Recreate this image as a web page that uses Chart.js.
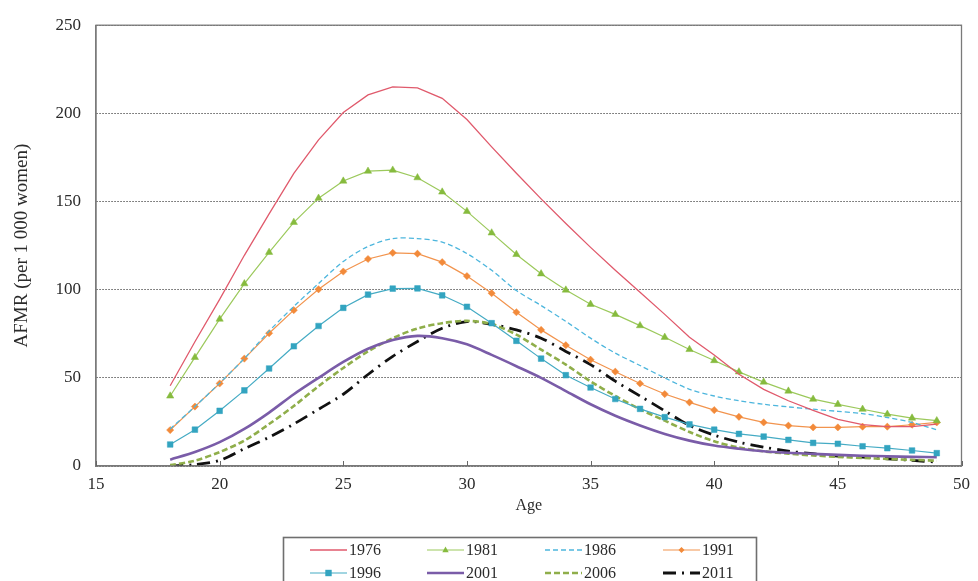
<!DOCTYPE html>
<html>
<head>
<meta charset="utf-8">
<script src="https://cdn.jsdelivr.net/npm/chart.js@4.4.0/dist/chart.umd.min.js"></script>
<style>
    body { margin: 0; background: #fff; }
    #wrap { width: 978px; height: 581px; }
</style>
</head>
<body>
<div id="wrap"><canvas id="afmrChart" width="978" height="581"></canvas></div>
<script>
// ages 18 .. 49
const ages = [18, 19, 20, 21, 22, 23, 24, 25, 26, 27, 28, 29, 30, 31, 32, 33,
              34, 35, 36, 37, 38, 39, 40, 41, 42, 43, 44, 45, 46, 47, 48, 49];

const xTicks = [15, 20, 25, 30, 35, 40, 45, 50];
const yTicks = [0, 50, 100, 150, 200, 250];

const years = ['1976', '1981', '1986', '1991', '1996', '2001', '2006', '2011'];

const afmr1976 = [45.5, 70.5, 94.5, 119.5, 143, 166, 185, 200.5, 210.5, 215, 214.5, 208.5, 196.5, 181, 166, 151.5,
                  137.5, 124, 111, 98.5, 86, 73, 63, 52, 43.5, 37, 31.5, 26.5, 23.5, 22.3, 22.3, 23.8];
const afmr1981 = [39.7, 61.6, 83.3, 103.4, 121.2, 138.2, 151.9, 161.6, 167.2, 167.8, 163.5, 155.4, 144.4, 132.2, 120, 109,
                  99.8, 91.7, 86, 79.6, 73, 66.1, 59.8, 53.4, 47.6, 42.5, 37.9, 35, 32.2, 29.4, 27.2, 25.7];
const afmr1986 = [21, 33.7, 47, 61, 76.5, 90.5, 103.5, 116, 124.5, 129, 129, 127, 120.5, 111, 99.5, 91,
                  82, 72.5, 64, 57, 50, 43.5, 39.7, 37, 35, 33.5, 32.2, 31, 29.7, 27.5, 24.7, 20.5];
const afmr1991 = [20.4, 33.7, 46.8, 60.9, 75.3, 88.4, 100.2, 110.3, 117.4, 120.9, 120.4, 115.6, 107.7, 98, 87.2, 77.2,
                  68.5, 60.3, 53.5, 46.8, 40.8, 36.1, 31.7, 27.9, 24.7, 22.9, 21.9, 21.9, 22.3, 22.3, 23.4, 24.7];
const afmr1996 = [12.2, 20.6, 31.3, 42.9, 55.3, 67.9, 79.4, 89.7, 97.2, 100.6, 100.7, 96.8, 90.3, 81, 71, 60.9,
                  51.5, 44.5, 38, 32.4, 27.7, 23.6, 20.6, 18.2, 16.7, 14.8, 13.1, 12.6, 11.2, 10.1, 8.8, 7.3];
const afmr2001 = [3.6, 7.9, 13.5, 21, 30.3, 40.7, 50, 59, 66.5, 71.5, 73.8, 72.5, 69, 63, 56.6, 50,
                  42.5, 35, 28.5, 23, 18.2, 14.4, 11.6, 9.8, 8.4, 7.5, 6.9, 6.3, 5.8, 5.5, 5.2, 5];
const afmr2006 = [0.5, 3, 7.9, 14.4, 23.8, 34, 45.3, 55.6, 65, 72.5, 78, 81, 82.3, 80.5, 74.5, 66,
                  57.5, 48, 39.7, 32.2, 25.7, 19.3, 14, 10.5, 8.3, 7, 6, 5.2, 4.6, 4, 3.5, 3];
const afmr2011 = [0, 0.8, 3.2, 9.8, 16.3, 23.8, 32.2, 40.7, 51.9, 62.2, 70.6, 78.1, 81.9, 80.3, 77.2, 72.5,
                  65, 57.5, 48.1, 39.7, 31.3, 23, 17.5, 13.5, 10.7, 8.4, 7, 5.6, 5, 4.1, 3.2, 2.2];

const FONT = "'Liberation Serif', 'DejaVu Serif', serif";

function toPoints(values) {
    return ages.map((a, i) => ({ x: a, y: values[i] }));
}

// line look for each year
const styles = [
    { color: '#e05a6c', width: 1.3, dash: [], point: false, tension: 0 },
    { color: '#9cc95c', width: 1.2, dash: [], point: 'triangle', pointColor: '#86bb3e', radius: 4.2, tension: 0 },
    { color: '#4db6dd', width: 1.3, dash: [5, 3], point: false, tension: 0.3 },
    { color: '#f2944e', width: 1.2, dash: [], point: 'rectRot', pointColor: '#f28a3a', radius: 3.6, tension: 0 },
    { color: '#45abc4', width: 1.2, dash: [], point: 'rect', pointColor: '#33a4c0', radius: 4, tension: 0 },
    { color: '#7a5ca8', width: 2.6, dash: [], point: false, tension: 0.3 },
    { color: '#8fae4a', width: 2.6, dash: [6, 3], point: false, tension: 0.3 },
    { color: '#111111', width: 2.8, dash: [13, 6, 2, 6], point: false, tension: 0.3 }
];

const seriesValues = [afmr1976, afmr1981, afmr1986, afmr1991, afmr1996, afmr2001, afmr2006, afmr2011];

const datasets = seriesValues.map((vals, i) => {
    const s = styles[i];
    return {
        label: years[i],
        data: toPoints(vals),
        borderColor: s.color,
        borderWidth: s.width,
        borderDash: s.dash,
        tension: s.tension,
        pointStyle: s.point || 'circle',
        pointRadius: s.point ? s.radius : 0,
        pointBackgroundColor: s.pointColor || s.color,
        pointBorderColor: s.pointColor || s.color,
        pointBorderWidth: 0.5,
        fill: false
    };
});

// boxed legend, 4 columns x 2 rows, plot frame and inner x tick marks
const framePlugin = {
    id: 'frameAndLegend',
    afterDraw(chart) {
        const ctx = chart.ctx;
        const area = chart.chartArea;
        const xScale = chart.scales.x;
        ctx.save();
        ctx.strokeStyle = '#7a7a7a';
        ctx.lineWidth = 1.3;
        ctx.strokeRect(area.left, area.top, area.right - area.left, area.bottom - area.top);

        ctx.lineWidth = 1;
        ctx.strokeStyle = '#666';
        xTicks.forEach(v => {
            const px = Math.round(xScale.getPixelForValue(v)) + 0.5;
            ctx.beginPath();
            ctx.moveTo(px, area.bottom);
            ctx.lineTo(px, area.bottom - 5);
            ctx.stroke();
        });

        // legend box
        ctx.strokeStyle = '#6f6f6f';
        ctx.lineWidth = 1.6;
        ctx.strokeRect(283.5, 537.5, 473, 60);

        const colX = [310, 427, 545, 663];
        const rowY = [550, 573];
        ctx.font = '16px ' + FONT;
        ctx.textBaseline = 'middle';
        years.forEach((yr, i) => {
            const s = styles[i];
            const x = colX[i % 4];
            const y = rowY[Math.floor(i / 4)];
            ctx.beginPath();
            ctx.setLineDash(s.dash);
            ctx.strokeStyle = s.color;
            ctx.lineWidth = s.width;
            ctx.moveTo(x, y);
            ctx.lineTo(x + 37, y);
            ctx.stroke();
            ctx.setLineDash([]);
            if (s.point) {
                ctx.fillStyle = s.pointColor;
                const cx = x + 18.5;
                ctx.beginPath();
                if (s.point === 'triangle') {
                    ctx.moveTo(cx, y - 3.5);
                    ctx.lineTo(cx + 3.2, y + 2.2);
                    ctx.lineTo(cx - 3.2, y + 2.2);
                } else if (s.point === 'rectRot') {
                    ctx.moveTo(cx, y - 3);
                    ctx.lineTo(cx + 3, y);
                    ctx.lineTo(cx, y + 3);
                    ctx.lineTo(cx - 3, y);
                } else {
                    ctx.rect(cx - 3.2, y - 3.2, 6.4, 6.4);
                }
                ctx.closePath();
                ctx.fill();
            }
            ctx.fillStyle = '#2b2b2b';
            ctx.fillText(yr, x + 39, y + 1);
        });
        ctx.restore();
    }
};

const ctx = document.getElementById('afmrChart').getContext('2d');
new Chart(ctx, {
    type: 'line',
    data: { datasets: datasets },
    options: {
        responsive: false,
        animation: false,
        layout: { autoPadding: false, padding: { left: 0, right: 11, top: 22, bottom: 0 } },
        plugins: {
            legend: { display: false },
            tooltip: { enabled: false }
        },
        scales: {
            x: {
                type: 'linear',
                min: 15,
                max: 50,
                afterBuildTicks(scale) {
                    scale.ticks = xTicks.map(v => ({ value: v }));
                },
                afterFit(scale) { scale.height = 115; },
                grid: {
                    drawOnChartArea: false,
                    drawTicks: false
                },
                border: { display: true, color: '#7a7a7a', width: 1.3 },
                ticks: {
                    padding: 8,
                    color: '#2b2b2b',
                    font: { family: FONT, size: 17 }
                },
                title: {
                    display: true,
                    text: 'Age',
                    color: '#2b2b2b',
                    font: { family: FONT, size: 16 },
                    padding: { top: 0, bottom: 66 }
                }
            },
            y: {
                min: 0,
                max: 250,
                afterBuildTicks(scale) {
                    scale.ticks = yTicks.map(v => ({ value: v }));
                },
                afterFit(scale) { scale.width = 96; },
                grid: {
                    drawTicks: false,
                    color: '#5e5e5e',
                    lineWidth: 1
                },
                border: { display: true, color: '#7a7a7a', width: 1.3, dash: [1.5, 1.5] },
                ticks: {
                    padding: 15,
                    color: '#2b2b2b',
                    font: { family: FONT, size: 17 }
                },
                title: {
                    display: true,
                    text: 'AFMR (per 1 000 women)',
                    color: '#2b2b2b',
                    font: { family: FONT, size: 19 },
                    padding: { top: 11, bottom: 0 }
                }
            }
        }
    },
    plugins: [framePlugin]
});
</script>
</body>
</html>
